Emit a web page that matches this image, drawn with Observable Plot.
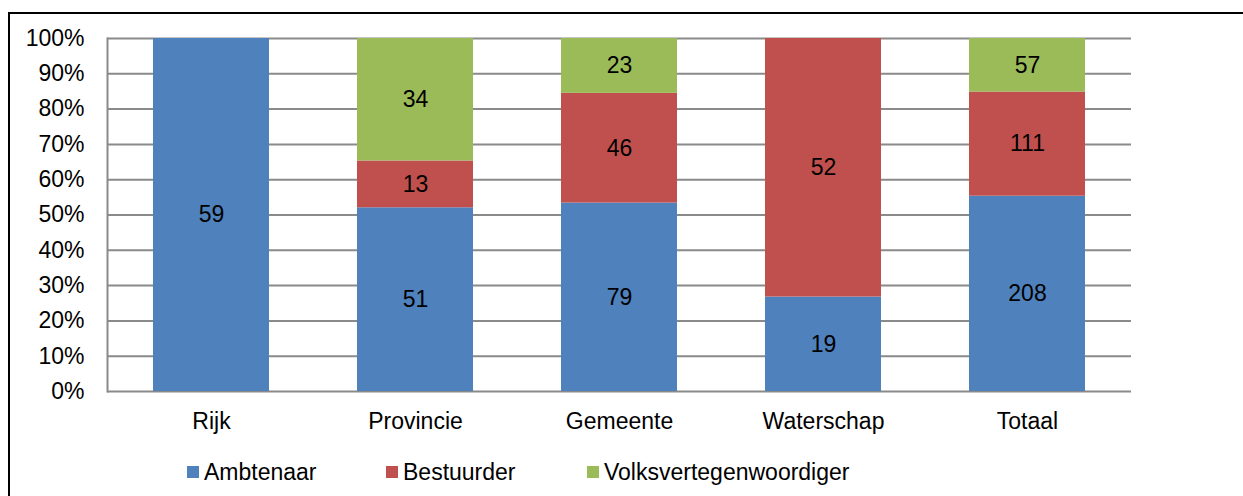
<!DOCTYPE html>
<html>
<head>
<meta charset="utf-8">
<script src="https://cdn.jsdelivr.net/npm/d3@7"></script>
<script src="https://cdn.jsdelivr.net/npm/@observablehq/plot@0.6"></script>
<style>
  html, body { margin: 0; padding: 0; background: #fff; }
  body { width: 1243px; height: 496px; position: relative; overflow: hidden; font-family: "Liberation Sans", Arial, sans-serif; }
  #chart { position: absolute; left: 0; top: 0; }
  #frame { position: absolute; left: 8px; top: 12px; width: 1300px; height: 600px; border-left: 2px solid #000; border-top: 2px solid #000; z-index: 2; pointer-events: none; }
  #legend { position: absolute; top: 457px; left: 0; width: 1243px; height: 30px; font-size: 23px; color: #000; }
  .key { position: absolute; top: 0; white-space: nowrap; line-height: 30px; }
  .sw { position: absolute; top: 9px; left: 0; width: 12px; height: 12px; }
  .lab { position: absolute; left: 17px; top: 0; }
</style>
</head>
<body>
<div id="chart"></div>
<div id="frame"></div>
<div id="legend"></div>
<script>
const categories = ["Rijk", "Provincie", "Gemeente", "Waterschap", "Totaal"];
const types = ["Ambtenaar", "Bestuurder", "Volksvertegenwoordiger"];
const colors = ["#4F81BD", "#C0504D", "#9BBB59"];
const ambtenaar = [59, 51, 79, 19, 208];
const bestuurder = [0, 13, 46, 52, 111];
const volksvertegenwoordiger = [0, 34, 23, 0, 57];
const yTicks = [0, 0.1, 0.2, 0.3, 0.4, 0.5, 0.6, 0.7, 0.8, 0.9, 1];
const legendX = [187, 386, 587];

const series = [ambtenaar, bestuurder, volksvertegenwoordiger];
const data = [];
categories.forEach((c, i) => {
  types.forEach((t, j) => {
    if (series[j][i] > 0) data.push({cat: c, type: t, n: series[j][i]});
  });
});

const font = '"Liberation Sans", Arial, sans-serif';
const fs = 23;
const chart = Plot.plot({
  width: 1243,
  height: 440,
  marginTop: 38,
  marginBottom: 49,
  marginLeft: 107,
  marginRight: 112,
  style: {fontFamily: font, fontSize: fs + "px", color: "#000", background: "#fff"},
  x: {domain: categories, paddingInner: 0.43, paddingOuter: 0.215, label: null},
  y: {domain: [0, 1], label: null},
  color: {domain: types, range: colors},
  marks: [
    Plot.ruleY(yTicks, {stroke: "#8a8a8a", strokeWidth: 2}),
    Plot.frame({anchor: "left", stroke: "#8a8a8a", strokeWidth: 2}),
    Plot.barY(data, {x: "cat", y: "n", fill: "type", offset: "normalize", order: types}),
    Plot.text(data, Plot.stackY({x: "cat", y: "n", z: "type", offset: "normalize", order: types, text: d => String(d.n), fontSize: fs, fill: "#000", fontFamily: font})),
    Plot.axisY({ticks: yTicks, tickSize: 0, tickPadding: 23, tickFormat: d => Math.round(d * 100) + "%", label: null, fontSize: fs}),
    Plot.axisX({tickSize: 0, tickPadding: 21, label: null, fontSize: fs})
  ]
});
document.getElementById("chart").appendChild(chart);

const legend = document.getElementById("legend");
types.forEach((t, i) => {
  const k = document.createElement("div");
  k.className = "key";
  k.style.left = legendX[i] + "px";
  const sw = document.createElement("div");
  sw.className = "sw";
  sw.style.background = colors[i];
  const lab = document.createElement("span");
  lab.className = "lab";
  lab.textContent = t;
  k.appendChild(sw);
  k.appendChild(lab);
  legend.appendChild(k);
});
</script>
</body>
</html>
